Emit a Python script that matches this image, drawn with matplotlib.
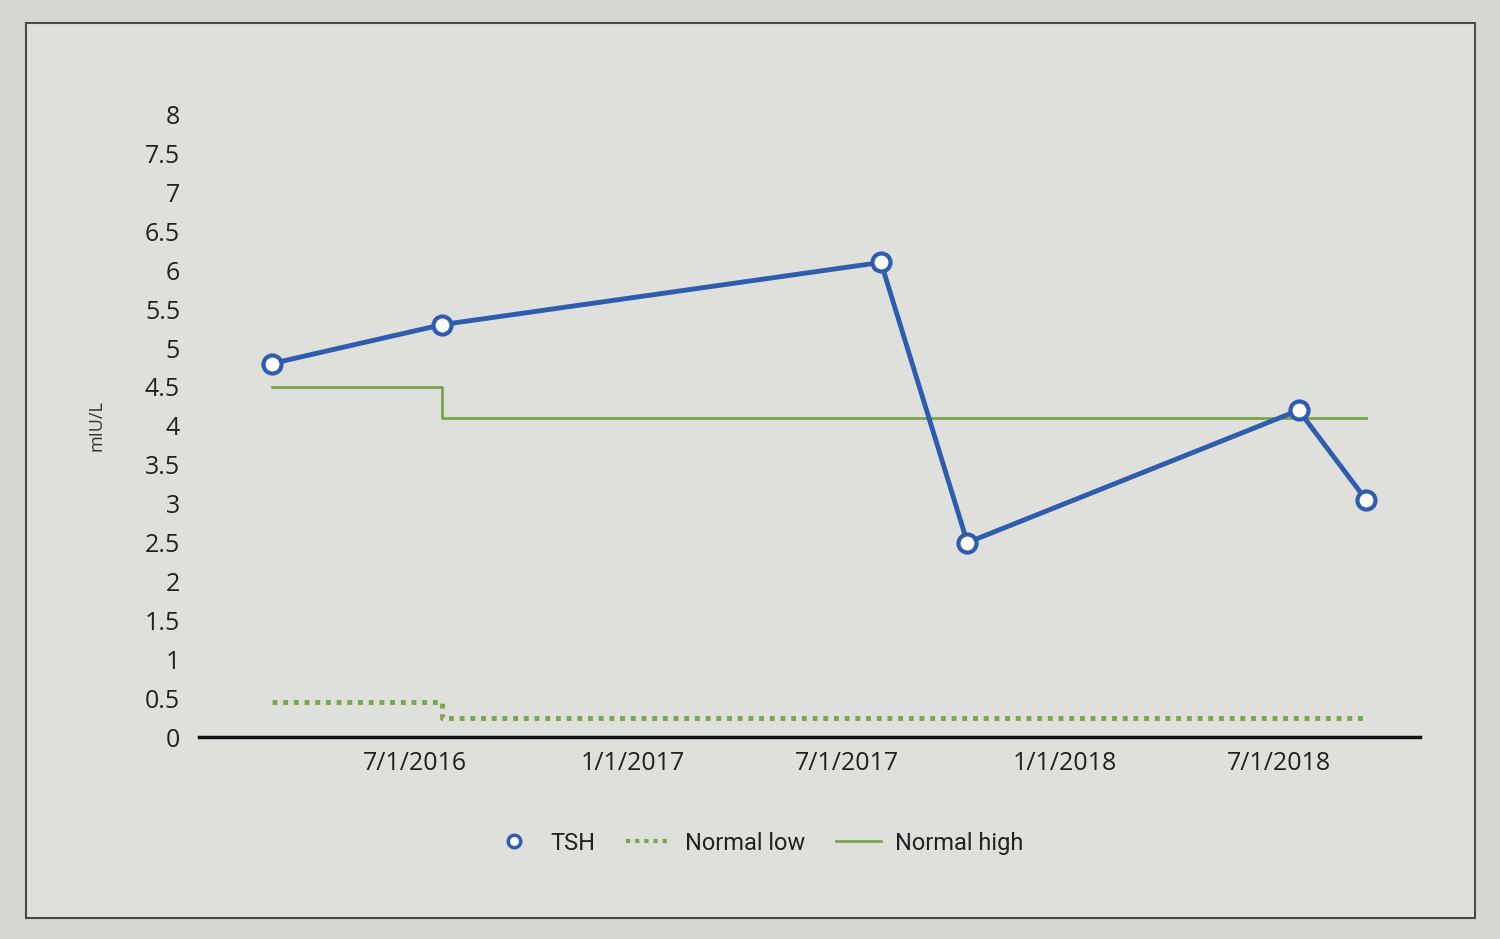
import matplotlib
matplotlib.use("Agg")
import matplotlib.pyplot as plt
from matplotlib.patches import Rectangle
from matplotlib.lines import Line2D
import datetime as dt

# ---- data ----
dates = ["2016-03-02", "2016-07-24", "2017-07-30", "2017-10-11", "2018-07-18", "2018-09-13"]
tsh = [4.8, 5.3, 6.1, 2.5, 4.2, 3.05]
normal_low = [0.45, 0.25, 0.25, 0.25, 0.25, 0.25]
normal_high = [4.5, 4.1, 4.1, 4.1, 4.1, 4.1]
tick_dates = ["2016-07-01", "2017-01-01", "2017-07-01", "2018-01-01", "2018-07-01"]
y_ticks = [0, 0.5, 1, 1.5, 2, 2.5, 3, 3.5, 4, 4.5, 5, 5.5, 6, 6.5, 7, 7.5, 8]

x = [dt.datetime.strptime(d, "%Y-%m-%d") for d in dates]
xt = [dt.datetime.strptime(d, "%Y-%m-%d") for d in tick_dates]

plt.rcParams['font.family'] = ['Open Sans', 'DejaVu Sans']

fig = plt.figure(figsize=(15, 9.39), dpi=100, facecolor='#d6d6d2')
frame = Rectangle((0.017, 0.022), 0.966, 0.953, transform=fig.transFigure,
                  facecolor='#dfdfdb', edgecolor='#4a4a4a', linewidth=1.5, zorder=-5)
fig.patches.append(frame)

ax = fig.add_axes([0.133, 0.215, 0.814, 0.663])
ax.set_zorder(2)
ax.set_facecolor('none')

blue = '#2e5db0'
green = '#7aa64c'

ax.plot(x, normal_low, color=green, linestyle=(0, (1, 1.2)), linewidth=3.5,
        drawstyle='steps-post', label='Normal low', zorder=2)
ax.plot(x, normal_high, color=green, linestyle='-', linewidth=2,
        drawstyle='steps-post', label='Normal high', zorder=2)
ax.plot(x, tsh, color=blue, linewidth=3.5, marker='o', markersize=13,
        markerfacecolor='white', markeredgecolor=blue, markeredgewidth=3,
        label='TSH', zorder=3)

ax.set_xlim(dt.datetime(2016, 1, 1), dt.datetime(2018, 10, 29))
ax.set_ylim(0, 8)
ax.set_yticks(y_ticks)
ax.set_yticklabels([('%g' % v) for v in y_ticks], fontsize=18, color='#222222')
ax.set_xticks(xt)
ax.set_xticklabels([f"{d.month}/{d.day}/{d.year}" for d in xt], fontsize=18, color='#222222')
ax.tick_params(axis='both', length=0)
ax.tick_params(axis='x', pad=10)
ax.tick_params(axis='y', pad=14)

for s in ['top', 'right', 'left']:
    ax.spines[s].set_visible(False)
ax.spines['bottom'].set_color('#111111')
ax.spines['bottom'].set_linewidth(2.5)

ax.set_ylabel('mIU/L', fontsize=13, color='#333333', labelpad=28)

h_tsh = Line2D([], [], linestyle='none', marker='o', markersize=9,
               markerfacecolor='white', markeredgecolor=blue, markeredgewidth=2.5)
h_low = Line2D([], [], color=green, linestyle=(0, (1, 1.2)), linewidth=3)
h_high = Line2D([], [], color=green, linestyle='-', linewidth=2)
leg = fig.legend([h_tsh, h_low, h_high], ['TSH', 'Normal low', 'Normal high'],
                 loc='center', bbox_to_anchor=(0.505, 0.102), ncol=3, frameon=False,
                 prop={'family': ['Roboto', 'DejaVu Sans'], 'size': 17},
                 handlelength=1.9, handletextpad=0.6, columnspacing=1.3)
for t in leg.get_texts():
    t.set_color('#222222')

fig.savefig('out.png', dpi=100, facecolor=fig.get_facecolor())
